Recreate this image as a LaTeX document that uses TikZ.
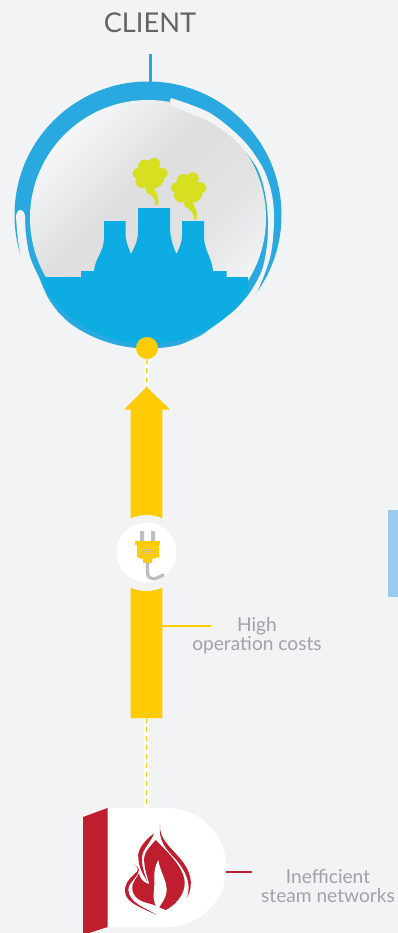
\documentclass[tikz,border=0pt]{standalone}
\usepackage{fontspec}
\setmainfont{Lato}
\definecolor{pagebg}{HTML}{F1F3F5}
\definecolor{ringblue}{HTML}{29A9E0}
\definecolor{plantblue}{HTML}{0DADE3}
\definecolor{smokegreen}{HTML}{D6DF20}
\definecolor{costyellow}{HTML}{FFCB05}
\definecolor{flamered}{HTML}{BE1E2D}
\definecolor{pluggray}{HTML}{BCBEC0}
\definecolor{labelgray}{HTML}{A0A2A5}
\definecolor{titlegray}{HTML}{636466}
\definecolor{sideblue}{HTML}{9ACBEB}
\pgfdeclareverticalshading{ballglass}{100bp}{
    color(0bp)=(pagebg); color(25bp)=(pagebg); color(40bp)=(black!11); color(56bp)=(black!13);
    color(76bp)=(white!40!pagebg); color(100bp)=(white!40!pagebg)}
\tikzset{
    labeltext/.style={text=labelgray, font=\fontsize{10.9}{12}\selectfont, inner sep=0pt},
    dashwhite/.style={line width=2.3pt, white},
    dashyellow/.style={line width=0.8pt, costyellow, dash pattern=on 2.8pt off 2.3pt},
    smokepuff/.pic={
        \fill[smokegreen] (137.7,173.3) circle (5.3) (145,166.7) circle (7) (154.3,164) circle (6)
            (162.3,173.3) circle (5.5) (142.5,181) circle (7) (153,177) circle (11.5) (150,189.5) circle (4.5);
        \fill[smokegreen] (146.5,192) .. controls (151,195) and (155,197) .. (155.5,205) -- (158.3,205)
            .. controls (159,197) and (157,192) .. (153,188) -- cycle;
    }
}
\begin{document}
\begin{tikzpicture}[x=0.02cm, y=-0.02cm]
    % Page
    \useasboundingbox (0,0) rectangle (398,933);
    \fill[pagebg] (0,0) rectangle (398,933);
    \fill[sideblue] (388,510) rectangle (398,597);

    % Client title and stem
    \node[text=titlegray, font=\fontsize{15.5}{17}\selectfont, inner sep=0pt] (client) at (150,23) {CLIENT};
    \coordinate (stemtop) at (150.5,54);
    \coordinate (stemfoot) at (150.5,83);
    \draw[ringblue, line width=1.7pt] (stemtop) -- (stemfoot);

    % Ball
    \fill[ringblue] (148,215) circle (133.5);
    \shade[shading=ballglass, shading angle=45] (148,218) circle (118);
    \fill[pagebg] plot[smooth] coordinates {(171,98) (210,113) (243,140) (263,168) (272,195) (274,222) (270,258) (254,298) (236,316) (218,340)}
        -- (180,348) -- plot[smooth] coordinates {(180,345) (200,336) (210,329) (220,322) (237,308) (251,291) (262,270) (267,245) (268,220) (265,193) (257,168) (237,142) (210,122) (177,108)}
        .. controls (172,106) and (168,102) .. (171,98) -- cycle;
    \fill[pagebg] (20,210) .. controls (23,210) and (25,213) .. (25,217)
        -- plot[smooth] coordinates {(25,217) (26,235) (30,257) (40,280) (48,298) (58,312) (70,324)}
        -- (45,325) -- plot[smooth] coordinates {(30,290) (22,262) (18,240) (16,217)}
        .. controls (16,213) and (18,210) .. (20,210) -- cycle;

    % Smoke
    \pic at (0,0) {smokepuff};
    \pic at (38.5,14.3) {smokepuff};

    % Cooling towers
    \begin{scope}
        \clip (148,219) circle (125);
        \fill[plantblue] (43,277) -- (81,277) -- (81,271) -- (94,271)
            .. controls (95,258) and (104,252) .. (104,238) -- (104,221) -- (125.5,221) -- (125.5,235)
            .. controls (126,243) and (129,249) .. (131,254)
            .. controls (135,246) and (138,242) .. (138,230) -- (138,208) -- (170,208) -- (170,230)
            .. controls (171,241) and (174,249) .. (176.5,254)
            .. controls (179,249) and (182,243) .. (182,235) -- (182,221) -- (204,221) -- (204,238)
            .. controls (205,252) and (212,258) .. (213,271) -- (226.5,271) -- (226.5,277) -- (248,277)
            -- (248,350) -- (43,350) -- cycle;
    \end{scope}

    % Yellow arrow with plug
    \node[circle, fill=costyellow, inner sep=0pt, minimum size=0.44cm] (dot) at (147,348) {};
    \coordinate (arrowtip) at (146.5,387);
    \coordinate (arrowfoot) at (146.5,718);
    \coordinate (boilertop) at (146.5,808);
    \draw[dashwhite] (dot.south) -- (arrowtip);
    \draw[dashyellow] (dot.south) -- (arrowtip);
    \draw[dashwhite] (arrowfoot) -- (boilertop);
    \draw[dashyellow] (arrowfoot) -- (boilertop);
    \fill[costyellow] (arrowtip) -- (170,409.5) -- (162.3,409.5) -- (162.3,718) -- (130.7,718) -- (130.7,409.5) -- (124,409.5) -- cycle;
    \fill[pagebg] (146.5,553) circle (38);
    \fill[white] (146.4,552.5) circle (29.8);
    \fill[pluggray] (140,531) rectangle (144,543) (151,531) rectangle (155,543);
    \fill[costyellow] (135,541) rectangle (160,545);
    \fill[costyellow] (137,545) -- (159,545) -- (159,557) -- (152,559) -- (152,563) -- (143,563) -- (143,559) -- (137,557) -- cycle;
    \fill[pluggray] (142,549) rectangle (153,549.6) (142,551) rectangle (153,551.6) (142,553) rectangle (153,553.6);
    \draw[pluggray, line width=1.9pt, line cap=round] (147.5,563) -- (147.5,572) .. controls (147.5,581) and (155,580) .. (163,575);

    % High operation costs
    \coordinate (barside) at (162.3,626);
    \coordinate (costsend) at (211,626);
    \draw[costyellow, line width=1.1pt] (barside) -- (costsend);
    \node[labeltext] (high) at (257,626) {High};
    \node[labeltext] (costs) at (257,645) {operation costs};

    % Boiler
    \fill[white] (107.5,808) -- (167,808) arc[start angle=-90, end angle=90, radius=59.5] -- (107.5,927) -- cycle;
    \fill[flamered] (83,817) -- (107.5,808) -- (107.5,927) -- (83,935) -- cycle;
    \coordinate (boilerside) at (226,872);
    \coordinate (steamend) at (252,872);
    \draw[flamered, line width=1.4pt] (boilerside) -- (steamend);
    \node[labeltext] (ineff) at (328,877) {Inefficient};
    \node[labeltext] (steam) at (328,896) {steam networks};

    % Flame
    \begin{scope}[shift={(115,815)}, scale=0.3333]
        \fill[flamered] (135,28) .. controls (130,70) and (170,100) .. (195,130)
            .. controls (225,165) and (240,205) .. (215,250)
            .. controls (232,205) and (210,165) .. (180,130)
            .. controls (150,100) and (130,75) .. (135,28) -- cycle;
        \fill[flamered] (122,75) .. controls (140,95) and (205,150) .. (209,200)
            .. controls (212,240) and (175,275) .. (152,285) -- (112,268)
            .. controls (90,262) and (60,258) .. (52,225)
            .. controls (48,205) and (65,190) .. (72,175)
            .. controls (75,195) and (90,205) .. (103,207)
            .. controls (95,180) and (85,150) .. (88,125)
            .. controls (92,105) and (110,90) .. (122,75) -- cycle;
        \fill[white] (130,135) .. controls (110,170) and (122,200) .. (116,235)
            .. controls (114,255) and (122,275) .. (128,285)
            .. controls (135,270) and (155,250) .. (155,225)
            .. controls (155,195) and (135,170) .. (130,135) -- cycle;
        \fill[flamered] (58,148) .. controls (64,151) and (70,158) .. (68,168)
            .. controls (55,180) and (28,200) .. (30,230)
            .. controls (32,265) and (85,280) .. (125,300)
            .. controls (95,280) and (42,265) .. (40,225)
            .. controls (40,200) and (68,190) .. (72,165)
            .. controls (72,160) and (66,152) .. (58,148) -- cycle;
        \fill[flamered] (117,55) .. controls (90,75) and (65,105) .. (70,130)
            .. controls (72,160) and (85,180) .. (97,200)
            .. controls (85,170) and (75,135) .. (85,110)
            .. controls (92,95) and (110,75) .. (117,55) -- cycle;
    \end{scope}
\end{tikzpicture}
\end{document}
